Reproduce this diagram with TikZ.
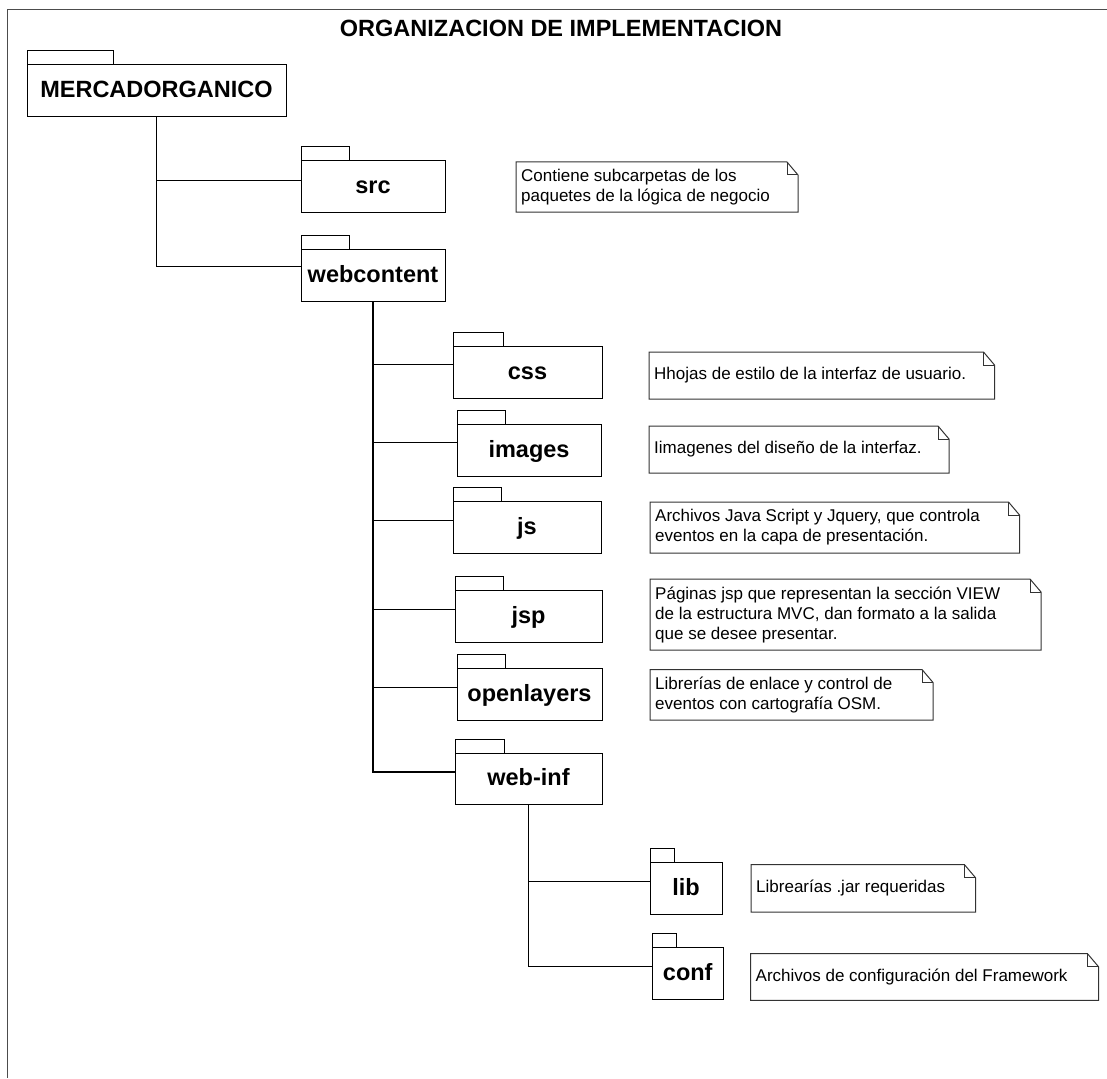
\documentclass[tikz,border=0pt]{standalone}
\usepackage{fontspec}
\setmainfont{Liberation Sans}

% package: #1 name, #2 x1, #3 y1, #4 x2, #5 y2, #6 tab width, #7 label
\newcommand\umlpkg[7]{%
  \node[pkgbody, minimum width={#4-#2}, minimum height={#5-#3}] (#1)
    at ({(#2+#4)/2},{(#3+#5)/2}) {#7};
  \draw[pkgtab] (#1.north west) rectangle ++(#6,-14);
}
% note with folded corner: #1 name, #2 x1, #3 y1, #4 x2, #5 y2, #6 text
\newcommand\umlnote[6]{%
  \node[notebody, minimum width={#4-#2}, minimum height={#5-#3}] (#1)
    at ({(#2+#4)/2},{(#3+#5)/2}) {};
  \draw[noteline] (#1.north west) -- ([xshift=-11pt]#1.north east)
    -- ([yshift=-13pt]#1.north east) -- (#1.south east) -- (#1.south west) -- cycle;
  \draw[noteline] ([xshift=-11pt]#1.north east) |- ([yshift=-13pt]#1.north east);
  \node[notetext] (#1-t) at ([xshift=5pt]#1.west) {#6};
}

\begin{document}
\begin{tikzpicture}[x=1pt,y=-1pt,
  pkgbody/.style={draw, line width=1pt, inner sep=0pt, outer sep=0pt,
    font=\bfseries\fontsize{23.5}{28}\selectfont, text height=18pt, text depth=4pt},
  pkgtab/.style={draw, line width=1pt},
  link/.style={line width=1pt},
  trunk/.style={line width=2pt},
  notebody/.style={inner sep=0pt, outer sep=0pt},
  noteline/.style={draw=black!80, line width=1pt},
  notetext/.style={anchor=west, align=left, inner sep=0pt,
    font=\fontsize{17}{20}\selectfont},
  frame/.style={draw=black!70, line width=1.8pt},
]
\useasboundingbox (0,0) rectangle (1107,1078);
\fill[white] (0,0) rectangle (1107,1078);

% outer frame and title
\coordinate (frtl) at (7.5,9.5);
\coordinate (frtr) at (1107,9.5);
\coordinate (frbl) at (7.5,1078);
\draw[frame] (frtr) -- (frtl) -- (frbl);
\node[font=\bfseries\fontsize{23.5}{28}\selectfont, inner sep=0pt] (title) at (561,28)
  {ORGANIZACION DE IMPLEMENTACION};

% packages
\umlpkg{merc}{27}{65}{286}{117}{86}{MERCADORGANICO}
\umlpkg{src}{301}{161}{445}{212}{48}{src}
\umlpkg{webcontent}{301}{249.5}{445}{301}{48}{webcontent}
\umlpkg{css}{453}{346}{602}{398}{50}{css}
\umlpkg{images}{457}{424}{601}{476}{48}{images}
\umlpkg{js}{453}{501.5}{601}{553}{48}{js}
\umlpkg{jsp}{455}{590.5}{602}{642}{48}{jsp}
\umlpkg{openlayers}{457}{668.5}{602}{720}{48}{openlayers}
\umlpkg{webinf}{455}{753}{602}{804}{49}{web-inf}
\umlpkg{lib}{650}{862.7}{722}{914.3}{24}{lib}
\umlpkg{conf}{652.5}{947.3}{723}{999.3}{24}{conf}

% tree connectors
\draw[link] (merc.south) |- ([yshift=6pt]src.west);
\draw[link] (merc.south) |- ([yshift=8.75pt]webcontent.west);
\draw[trunk] (webcontent.south) |- ([yshift=6.5pt]webinf.west);
\draw[link] (webcontent.south) |- ([yshift=7.5pt]css.west);
\draw[link] (webcontent.south) |- ([yshift=7.5pt]images.west);
\draw[link] (webcontent.south) |- ([yshift=6.75pt]js.west);
\draw[link] (webcontent.south) |- ([yshift=6.75pt]jsp.west);
\draw[link] (webcontent.south) |- ([yshift=6.75pt]openlayers.west);
\draw[link] (webinf.south) |- ([yshift=7pt]lib.west);
\draw[link] (webinf.south) |- ([yshift=6.8pt]conf.west);

% notes
\umlnote{nsrc}{516}{162}{798}{212}{Contiene subcarpetas de los\\paquetes de la lógica de negocio}
\umlnote{ncss}{649}{352}{994.5}{399}{Hhojas de estilo de la interfaz de usuario.}
\umlnote{nimages}{649}{426}{949}{473}{Iimagenes del diseño de la interfaz.}
\umlnote{njs}{650}{502}{1019.5}{553}{Archivos Java Script y Jquery, que controla\\eventos en la capa de presentación.}
\umlnote{njsp}{650}{579}{1041}{650}{Páginas jsp que representan la sección VIEW\\de la estructura MVC, dan formato a la salida\\que se desee presentar.}
\umlnote{nopen}{650}{669.5}{933}{720}{Librerías de enlace y control de\\eventos con cartografía OSM.}
\umlnote{nlib}{751}{864.7}{975.5}{912}{Librearías .jar requeridas}
\umlnote{nconf}{750.5}{953.7}{1098.5}{1000.3}{Archivos de configuración del Framework}
\end{tikzpicture}
\end{document}
